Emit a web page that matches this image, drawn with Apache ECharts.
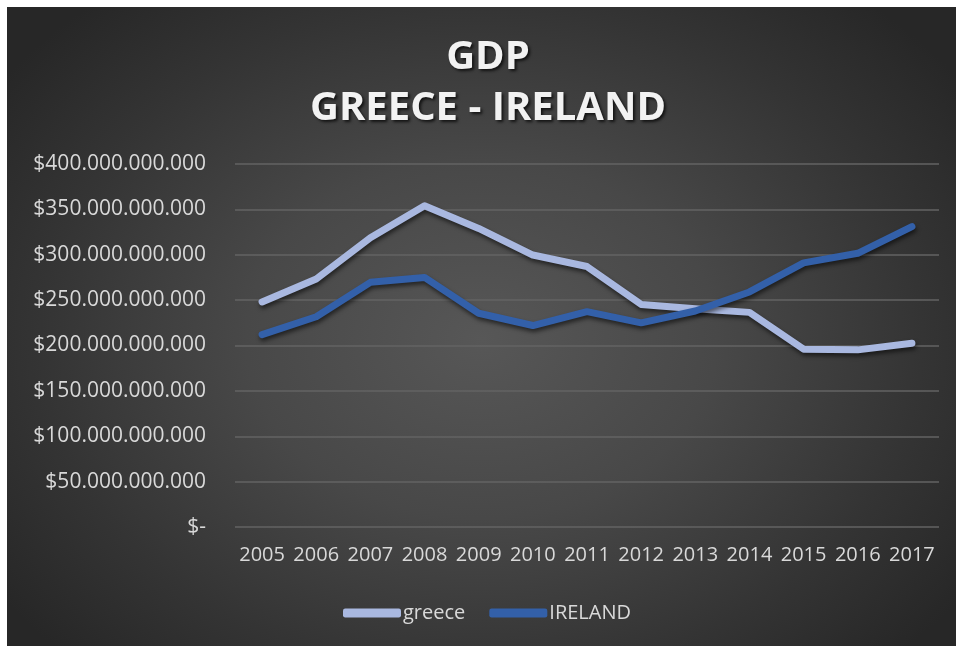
<!DOCTYPE html>
<html>
<head>
<meta charset="utf-8">
<title>GDP Greece - Ireland</title>
<script src="https://cdn.jsdelivr.net/npm/echarts@6/dist/echarts.min.js"></script>
<style>
  html, body { margin: 0; padding: 0; background: #ffffff; width: 956px; height: 646px; overflow: hidden; }
  #chart {
    position: absolute; left: 7px; top: 7px; width: 949px; height: 639px;
    background: radial-gradient(ellipse 62% 70% at 50% 52%, #575757 0%, #484848 40%, #343434 75%, #272727 100%);
  }
</style>
</head>
<body>
<div id="chart"></div>
<script>
// Years on the category axis
const years = ['2005', '2006', '2007', '2008', '2009', '2010', '2011', '2012', '2013', '2014', '2015', '2016', '2017'];

// GDP in US dollars
const greece = [248.0e9, 273.3e9, 318.8e9, 354.0e9, 329.0e9, 299.7e9, 287.0e9, 245.3e9, 240.5e9, 236.5e9, 196.0e9, 195.2e9, 202.5e9];
const ireland = [212.0e9, 231.7e9, 269.6e9, 275.0e9, 235.5e9, 222.0e9, 237.3e9, 225.0e9, 238.0e9, 259.0e9, 291.0e9, 301.6e9, 331.0e9];

const seriesNames = ['greece', 'IRELAND'];
const titleLines = ['GDP', 'GREECE - IRELAND'];

// "$400.000.000.000" style labels, zero shown as "$-"
function dollarLabel(v) {
  if (v === 0) return '$-';
  return '$' + String(Math.round(v)).replace(/\B(?=(\d{3})+(?!\d))/g, '.');
}

const font = 'Open Sans';
const chart = echarts.init(document.getElementById('chart'), null, { renderer: 'canvas' });

const lineShadow = {
  shadowColor: 'rgba(0,0,0,0.55)',
  shadowBlur: 4,
  shadowOffsetX: 1,
  shadowOffsetY: 3
};

chart.setOption({
  animation: false,
  backgroundColor: 'transparent',
  title: {
    text: titleLines.join('\n'),
    left: 476,
    top: 20,
    textAlign: 'center',
    textStyle: {
      fontFamily: font,
      fontWeight: 'bold',
      fontSize: 40,
      lineHeight: 51,
      color: '#f2f2f2',
      textShadowColor: 'rgba(0,0,0,0.7)',
      textShadowBlur: 3,
      textShadowOffsetX: 2,
      textShadowOffsetY: 2
    }
  },
  legend: {
    data: seriesNames,
    left: 331,
    top: 591,
    icon: 'roundRect',
    itemWidth: 58,
    itemHeight: 9,
    itemGap: 24,
    textStyle: {
      fontFamily: font,
      fontSize: 20,
      color: '#d9d9d9',
      padding: [0, 0, 0, -3]
    }
  },
  grid: {
    left: 228,
    right: 17,
    top: 157,
    bottom: 119,
    containLabel: false
  },
  xAxis: {
    type: 'category',
    data: years,
    boundaryGap: true,
    axisLine: { show: false },
    axisTick: { show: false },
    axisLabel: {
      fontFamily: font,
      fontSize: 20,
      color: '#d9d9d9',
      margin: 18,
      interval: 0
    }
  },
  yAxis: {
    type: 'value',
    min: 0,
    max: 400e9,
    interval: 50e9,
    axisLine: { show: false },
    axisTick: { show: false },
    splitLine: { lineStyle: { color: '#636363', width: 1.5 } },
    axisLabel: {
      fontFamily: font,
      fontSize: 21,
      color: '#d9d9d9',
      margin: 29,
      formatter: dollarLabel
    }
  },
  series: [
    {
      name: seriesNames[0],
      type: 'line',
      data: greece,
      symbol: 'none',
      color: '#a9b8e0',
      lineStyle: Object.assign({ width: 7, color: '#a9b8e0', cap: 'round', join: 'round' }, lineShadow),
      z: 2
    },
    {
      name: seriesNames[1],
      type: 'line',
      data: ireland,
      symbol: 'none',
      color: '#3360a9',
      lineStyle: Object.assign({ width: 7, color: '#3360a9', cap: 'round', join: 'round' }, lineShadow),
      z: 3
    }
  ]
});
</script>
</body>
</html>
